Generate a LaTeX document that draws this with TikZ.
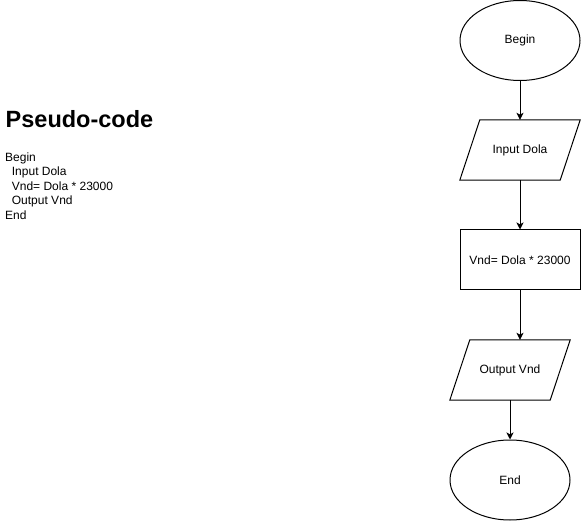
\documentclass[tikz,border=0pt]{standalone}
\usepackage{fontspec}
\setmainfont{Liberation Sans}
\usetikzlibrary{shapes.geometric,arrows.meta}
\tikzset{
  flowline/.style={line width=1pt,-{Stealth[length=7pt,width=7pt,inset=1.8pt]}},
  termbox/.style={ellipse,draw,line width=1pt,minimum width=120pt,minimum height=80pt,inner sep=0pt,font=\fontsize{12}{14}\selectfont},
  procbox/.style={rectangle,draw,line width=1pt,minimum width=120pt,minimum height=60pt,inner sep=0pt,font=\fontsize{12}{14}\selectfont},
  iobox/.style={rectangle,minimum width=100pt,minimum height=60pt,inner sep=0pt,font=\fontsize{12}{14}\selectfont},
  ioedge/.style={line width=1pt,line join=miter}
}
\begin{document}
\begin{tikzpicture}[x=1pt,y=-1pt]
\useasboundingbox (0,0) rectangle (581,521);
% pseudo-code
\node[anchor=base west,inner sep=0pt,font=\bfseries\fontsize{23.5}{27}\selectfont] (title) at (5.5,127.5) {Pseudo-code};
\node[anchor=base west,inner sep=0pt,align=left,font=\fontsize{12}{14.5}\selectfont] (code) at (5,219.5)
  {Begin\\\hspace*{6.7pt}Input Dola\\\hspace*{6.7pt}Vnd= Dola * 23000\\\hspace*{6.7pt}Output Vnd\\End};
% flowchart
\node[termbox] (begin) at (520,40.5) {Begin};
\node[iobox] (in) at (520,150) {Input Dola};
\draw[ioedge] ([xshift=-10pt]in.south west) -- ([xshift=10pt]in.north west) -- ([xshift=10pt]in.north east) -- ([xshift=-10pt]in.south east) -- cycle;
\node[procbox] (calc) at (520,260) {Vnd= Dola * 23000};
\node[iobox] (out) at (510,370) {Output Vnd};
\draw[ioedge] ([xshift=-10pt]out.south west) -- ([xshift=10pt]out.north west) -- ([xshift=10pt]out.north east) -- ([xshift=-10pt]out.south east) -- cycle;
\node[termbox] (end) at (510,480) {End};
\draw[flowline] (begin.south) -- (in.north);
\draw[flowline] (in.south) -- (calc.north);
\draw[flowline] (calc.south) -- (calc.south |- out.north);
\draw[flowline] (out.south) -- (end.north);
\end{tikzpicture}
\end{document}
